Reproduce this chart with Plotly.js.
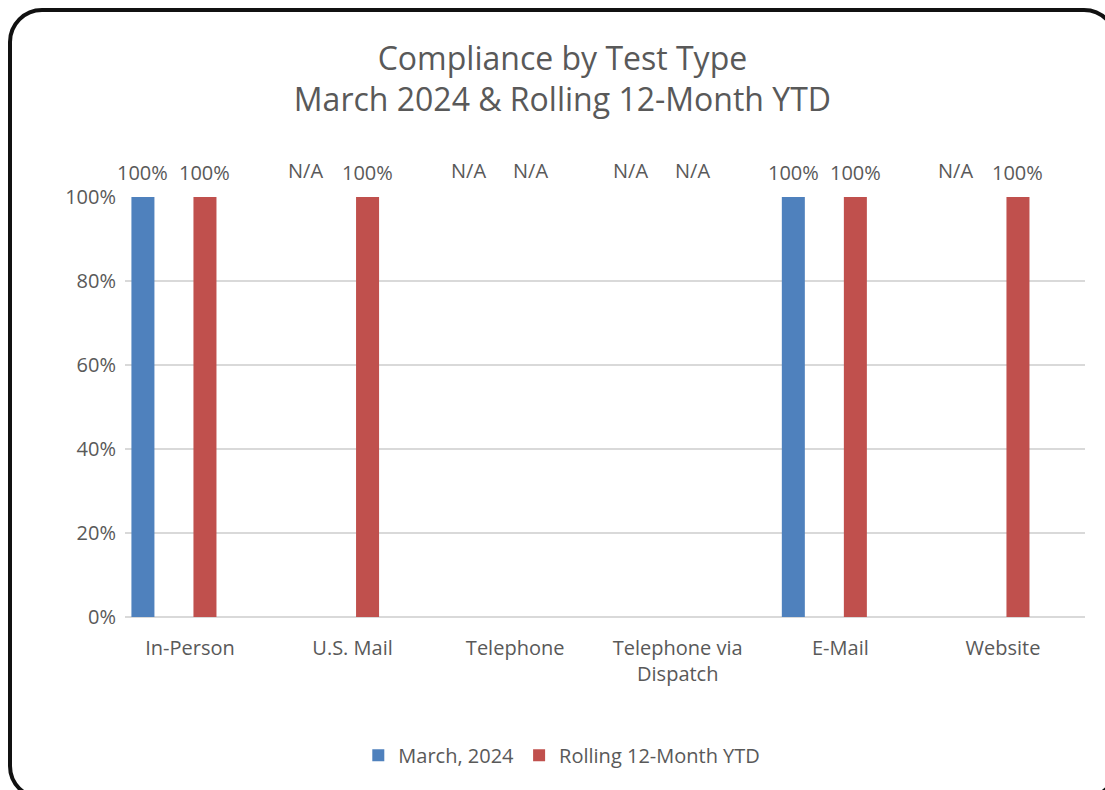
<!DOCTYPE html>
<html>
<head>
<meta charset="utf-8">
<script src="https://cdn.plot.ly/plotly-3.0.1.min.js"></script>
<style>
  html, body { margin: 0; padding: 0; background: #fff; overflow: hidden; }
  #chart { position: absolute; left: 0; top: 0; width: 1105px; height: 790px; }
  #frame { position: absolute; left: 8px; top: 8px; width: 1110px; height: 792px;
           box-sizing: border-box; border: 4px solid #111; border-radius: 34px;
           pointer-events: none; }
</style>
</head>
<body>
<div id="chart"></div>
<div id="frame"></div>
<script>
const categories = ["In-Person", "U.S. Mail", "Telephone", "Telephone via<br>Dispatch", "E-Mail", "Website"];
const seriesNames = ["March, 2024", "Rolling 12-Month YTD"];
const marchValues = [1, null, null, null, 1, null];
const rollingValues = [1, 1, null, null, 1, 1];
const marchLabels = ["100%", "N/A", "N/A", "N/A", "100%", "N/A"];
const rollingLabels = ["100%", "100%", "N/A", "N/A", "100%", "100%"];
const yTicks = [0, 0.2, 0.4, 0.6, 0.8, 1.0];

const FONT = "Open Sans, sans-serif";
const GREY = "#595959";
const FS = 20;
const colors = ["#4F81BD", "#C0504D"];

const traces = [
  { type: "bar", name: seriesNames[0], x: categories.map((c, i) => i), y: marchValues,
    marker: { color: colors[0] }, hoverinfo: "skip" },
  { type: "bar", name: seriesNames[1], x: categories.map((c, i) => i), y: rollingValues,
    marker: { color: colors[1] }, hoverinfo: "skip" }
];

const slot = 0.381;
const annotations = [];
[marchLabels, rollingLabels].forEach((labels, s) => {
  labels.forEach((t, i) => {
    annotations.push({
      x: i + (s === 0 ? -slot / 2 : slot / 2), y: 1, xref: "x", yref: "y",
      text: t, showarrow: false, yanchor: "bottom", yshift: t === "N/A" ? 11 : 9,
      font: { family: FONT, size: FS, color: GREY }
    });
  });
});

const layout = {
  width: 1105, height: 790,
  margin: { l: 125, r: 20, t: 197, b: 173 },
  paper_bgcolor: "rgba(0,0,0,0)", plot_bgcolor: "rgba(0,0,0,0)",
  font: { family: FONT, color: GREY, size: FS },
  title: { text: "Compliance by Test Type<br>March 2024 & Rolling 12-Month YTD",
           x: 0.509, xref: "container", xanchor: "center",
           y: 0.912, yref: "container", yanchor: "middle",
           font: { family: FONT, size: 32, color: GREY } },
  barmode: "group", bargap: 0.237, bargroupgap: 0.629,
  xaxis: {
    type: "linear", range: [-0.301, 5.603],
    tickmode: "array", tickvals: categories.map((c, i) => i), ticktext: categories,
    showgrid: false, zeroline: false, showline: false, ticks: "",
    ticklabelshift: 16, ticklabelstandoff: 17,
    tickfont: { family: FONT, size: FS, color: GREY }
  },
  yaxis: {
    range: [0, 1], tickvals: yTicks, tickformat: ".0%",
    showgrid: true, gridcolor: "#D9D9D9", gridwidth: 2,
    zeroline: true, zerolinecolor: "#D9D9D9", zerolinewidth: 2,
    showline: false, ticks: "", ticklabelstandoff: 8,
    tickfont: { family: FONT, size: FS, color: GREY }
  },
  showlegend: true,
  legend: { orientation: "h", x: 0.455, xanchor: "center", y: -0.329, yanchor: "middle",
            font: { family: FONT, size: FS, color: GREY }, itemclick: false, itemwidth: 30 },
  annotations: annotations
};

Plotly.newPlot("chart", traces, layout, { displayModeBar: false, staticPlot: true });
</script>
</body>
</html>
